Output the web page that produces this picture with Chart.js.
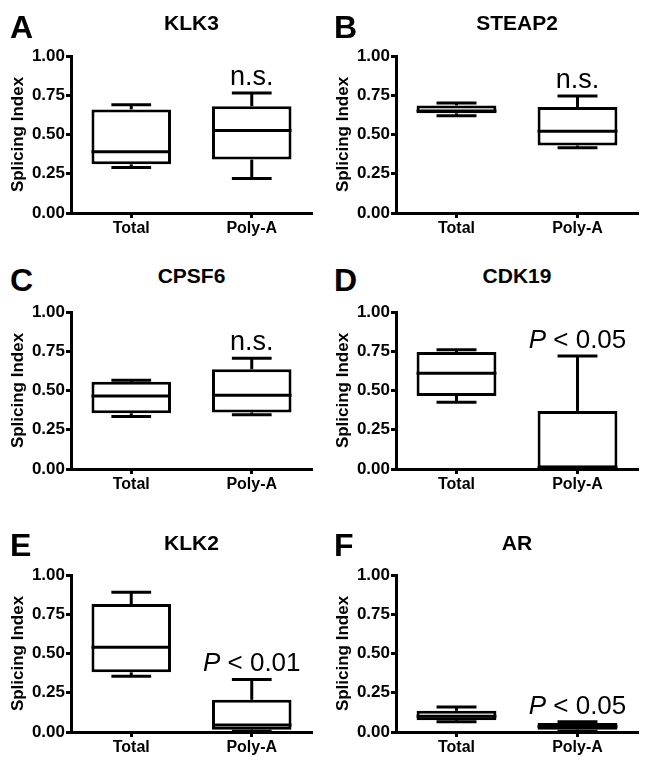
<!DOCTYPE html>
<html><head><meta charset="utf-8">
<script src="https://cdn.jsdelivr.net/npm/chart.js@4/dist/chart.umd.min.js"></script>
<style>
body{margin:0;background:#fff;width:649px;height:764px;position:relative;overflow:hidden;font-family:Arial,"Liberation Sans",sans-serif;}
.panel{position:absolute;}
.letter{position:absolute;font-weight:bold;font-size:32px;line-height:1;color:#000;}
.gene{position:absolute;font-weight:bold;font-size:21px;line-height:1;color:#000;transform:translateX(-50%);white-space:nowrap;}
</style></head><body>
<script>
// ---- data ----
const panelLetters = ['A','B','C','D','E','F'];
const genes = ['KLK3','STEAP2','CPSF6','CDK19','KLK2','AR'];
const groups = ['Total','Poly-A'];
const significance = ['n.s.','n.s.','n.s.','P < 0.05','P < 0.01','P < 0.05'];
const yTicks = [0, 0.25, 0.5, 0.75, 1.0];
// per panel: [Total, Poly-A]
const whiskerLow  = [[0.29,0.22],[0.62,0.415],[0.335,0.345],[0.425,0.0],[0.355,0.005],[0.065,0.005]];
const quartile1   = [[0.31,0.34],[0.635,0.43],[0.355,0.36],[0.465,0.005],[0.38,0.015],[0.075,0.015]];
const medians     = [[0.39,0.525],[0.65,0.52],[0.465,0.47],[0.61,0.01],[0.54,0.045],[0.10,0.035]];
const quartile3   = [[0.66,0.68],[0.685,0.675],[0.555,0.635],[0.745,0.37],[0.815,0.205],[0.135,0.058]];
const whiskerHigh = [[0.69,0.765],[0.70,0.745],[0.565,0.705],[0.76,0.72],[0.89,0.335],[0.16,0.065]];

// ---- layout ----
const FONT = 'Arial, "Liberation Sans", sans-serif';
Chart.defaults.font.family = FONT;
Chart.defaults.color = '#000';
const colLeft = [0, 325], colWidth = [325, 324], padRight = [13, 11];
const rowChartTop = [56, 312, 575];
const plotH = 157, padTop = 14, xAxisH = 35, yAxisW = 71;
const geneCapTop = [15, 268, 535], letterCapTop = [15, 268, 533];
const letterLeft = [10, 334];

const boxPlugin = {
  id: 'boxWhisker',
  afterDatasetsDraw(chart) {
    const p = chart.options.plugins.boxWhisker.panel;
    const meta = chart.getDatasetMeta(0);
    const y = chart.scales.y;
    const ctx = chart.ctx;
    const line = (x1, y1, x2, y2) => { ctx.beginPath(); ctx.moveTo(x1, y1); ctx.lineTo(x2, y2); ctx.stroke(); };
    ctx.save();
    ctx.strokeStyle = '#000'; ctx.lineWidth = 3; ctx.lineCap = 'butt';
    meta.data.forEach((bar, i) => {
      const x = bar.x, w = bar.width;
      const yLo = y.getPixelForValue(whiskerLow[p][i]);
      const yQ1 = y.getPixelForValue(quartile1[p][i]);
      const yMd = y.getPixelForValue(medians[p][i]);
      const yQ3 = y.getPixelForValue(quartile3[p][i]);
      const yHi = y.getPixelForValue(whiskerHigh[p][i]);
      line(x - w / 2, yMd, x + w / 2, yMd);
      line(x, yQ3, x, yHi); line(x - w / 4, yHi, x + w / 4, yHi);
      line(x, yQ1, x, yLo); line(x - w / 4, yLo, x + w / 4, yLo);
    });
    // significance label above Poly-A
    const bar = meta.data[1];
    const txt = significance[p];
    const base = y.getPixelForValue(whiskerHigh[p][1]) - 8;
    ctx.fillStyle = '#000';
    ctx.textBaseline = 'alphabetic';
    if (txt.startsWith('P')) {
      const rest = txt.slice(1);
      ctx.font = 'italic 26px ' + FONT;
      const wP = ctx.measureText('P').width;
      ctx.font = '26px ' + FONT;
      const wR = ctx.measureText(rest).width;
      const x0 = bar.x - (wP + wR) / 2;
      ctx.textAlign = 'left';
      ctx.font = 'italic 26px ' + FONT;
      ctx.fillText('P', x0, base);
      ctx.font = '26px ' + FONT;
      ctx.fillText(rest, x0 + wP, base);
    } else {
      ctx.font = '27px ' + FONT;
      ctx.textAlign = 'center';
      ctx.fillText(txt, bar.x, base);
    }
    ctx.restore();
  }
};

for (let p = 0; p < 6; p++) {
  const col = p % 2, row = Math.floor(p / 2);
  const div = document.createElement('div');
  div.className = 'panel';
  const W = colWidth[col], H = padTop + plotH + xAxisH;
  div.style.left = colLeft[col] + 'px';
  div.style.top = (rowChartTop[row] - padTop) + 'px';
  div.style.width = W + 'px'; div.style.height = H + 'px';
  const cv = document.createElement('canvas');
  cv.width = W; cv.height = H;
  div.appendChild(cv);
  document.body.appendChild(div);

  const letter = document.createElement('div');
  letter.className = 'letter';
  letter.textContent = panelLetters[p];
  letter.style.left = letterLeft[col] + 'px';
  letter.style.top = (letterCapTop[row] - 0.13 * 32) + 'px';
  document.body.appendChild(letter);

  const gene = document.createElement('div');
  gene.className = 'gene';
  gene.textContent = genes[p];
  gene.style.left = (colLeft[col] + yAxisW + (W - yAxisW - padRight[col]) / 2) + 'px';
  gene.style.top = (geneCapTop[row] - 0.13 * 21) + 'px';
  document.body.appendChild(gene);

  new Chart(cv, {
    type: 'bar',
    data: {
      labels: groups,
      datasets: [{
        data: groups.map((g, i) => [quartile1[p][i], quartile3[p][i]]),
        backgroundColor: '#fff', borderColor: '#000', borderWidth: 3, borderSkipped: false,
        barPercentage: 0.66, categoryPercentage: 1
      }]
    },
    options: {
      responsive: false, animation: false,
      layout: { padding: { top: padTop, right: padRight[col], left: 0, bottom: 0 } },
      plugins: { legend: { display: false }, tooltip: { enabled: false }, boxWhisker: { panel: p } },
      scales: {
        x: {
          offset: true,
          afterFit: s => { s.height = xAxisH; },
          grid: { display: true, drawOnChartArea: false, drawTicks: true, tickLength: 5, tickWidth: 3, tickColor: '#000', offset: false },
          border: { display: true, color: '#000', width: 3, z: 1 },
          ticks: { font: { size: 16, weight: 'bold' }, color: '#000', padding: 1 }
        },
        y: {
          min: 0, max: 1,
          afterFit: s => { s.width = yAxisW; },
          afterBuildTicks: s => { s.ticks = yTicks.map(v => ({ value: v })); },
          grid: { display: true, drawOnChartArea: false, drawTicks: true, tickLength: 5, tickWidth: 3, tickColor: '#000' },
          border: { display: true, color: '#000', width: 3, z: 1 },
          ticks: { font: { size: 17, weight: 'bold' }, color: '#000', padding: 1, callback: v => Number(v).toFixed(2) },
          title: { display: true, text: 'Splicing Index', font: { size: 17, weight: 'bold' }, color: '#000', padding: { top: 8, bottom: 0 } }
        }
      }
    },
    plugins: [boxPlugin]
  });
}
</script>
</body></html>
